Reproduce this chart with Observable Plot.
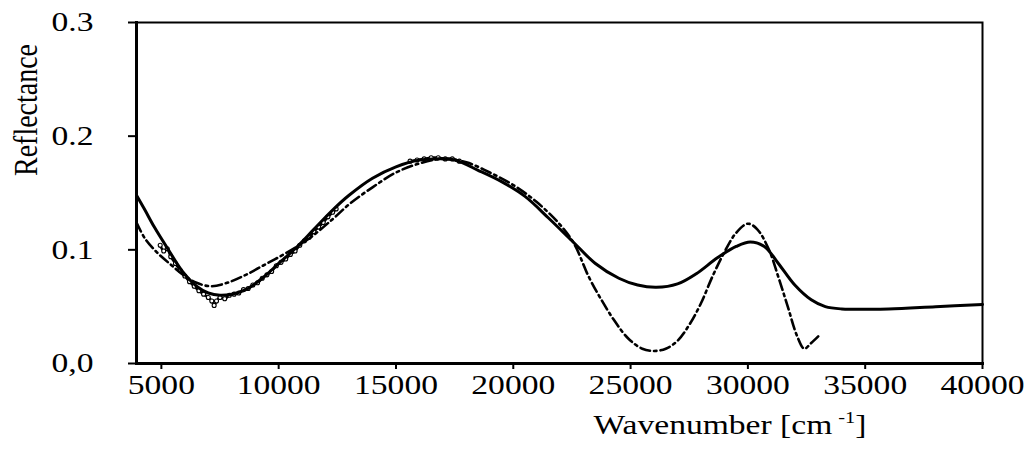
<!DOCTYPE html>
<html>
<head>
<meta charset="utf-8">
<script src="https://cdn.jsdelivr.net/npm/d3@7"></script>
<script src="https://cdn.jsdelivr.net/npm/@observablehq/plot@0.6"></script>
<style>
  body { margin: 0; background: #fff; }
  #chart svg { display: block; }
</style>
</head>
<body>
<div id="chart"></div>
<script>
// Calculated reflectance (solid curve)
const solidWn = [3940, 4300, 4700, 5300, 5900, 6500, 7000, 7500, 8000, 8600, 9300, 10000, 10700, 11500, 12300, 13000, 14000, 15000, 16000, 16700, 17500, 18500, 19500, 20500, 21500, 22500, 23500, 24500, 25300, 26100, 27000, 27800, 28700, 29500, 30100, 30700, 31300, 32000, 32700, 33300, 34000, 36000, 38000, 40000];
const solidR = [0.148, 0.135, 0.120, 0.100, 0.081, 0.068, 0.062, 0.060, 0.061, 0.065, 0.075, 0.088, 0.101, 0.118, 0.135, 0.148, 0.163, 0.173, 0.179, 0.180, 0.179, 0.170, 0.160, 0.147, 0.128, 0.108, 0.088, 0.075, 0.069, 0.067, 0.070, 0.079, 0.093, 0.103, 0.107, 0.103, 0.088, 0.069, 0.056, 0.050, 0.048, 0.048, 0.050, 0.052];

// Second model (dash-dot curve)
const dashWn = [3940, 4300, 4800, 5400, 6000, 6500, 7100, 7800, 8600, 9500, 10300, 11300, 12300, 13000, 14000, 15000, 16000, 17000, 18000, 19000, 20000, 21000, 22000, 22600, 23200, 23700, 24300, 24900, 25500, 26000, 26500, 27000, 27500, 28000, 28500, 29000, 29500, 30000, 30400, 30900, 31300, 31700, 32100, 32400, 32700, 33050];
const dashR = [0.124, 0.110, 0.098, 0.087, 0.077, 0.071, 0.068, 0.071, 0.078, 0.088, 0.097, 0.110, 0.127, 0.140, 0.155, 0.168, 0.176, 0.180, 0.177, 0.168, 0.157, 0.142, 0.122, 0.105, 0.077, 0.058, 0.038, 0.022, 0.013, 0.011, 0.013, 0.020, 0.034, 0.053, 0.077, 0.098, 0.115, 0.123, 0.118, 0.100, 0.076, 0.050, 0.024, 0.013, 0.018, 0.025];

// Measured spectrum (two recorded ranges, null separates them)
const measWn = [4950, 5100, 5250, 5400, 5600, 5800, 6000, 6200, 6400, 6600, 6800, 7000, 7150, 7250, 7350, 7500, 7700, 7900, 8100, 8300, 8500, 8700, 8900, 9100, 9300, 9500, 9700, 9900, 10100, 10300, 10500, 10700, 10900, 11100, 11300, 11500, 11700, 11900, 12100, 12300, 12450,
  12600,
  15600, 15900, 16200, 16500, 16800, 17100, 17400, 17700];
const measR = [0.104, 0.099, 0.101, 0.094, 0.088, 0.082, 0.077, 0.072, 0.068, 0.064, 0.061, 0.058, 0.055, 0.051, 0.055, 0.058, 0.057, 0.060, 0.061, 0.062, 0.065, 0.066, 0.069, 0.071, 0.075, 0.078, 0.081, 0.086, 0.089, 0.092, 0.096, 0.099, 0.104, 0.108, 0.111, 0.116, 0.120, 0.124, 0.129, 0.133, 0.136,
  null,
  0.178, 0.179, 0.180, 0.181, 0.181, 0.180, 0.180, 0.178];

// Axis ticks and their printed labels
const xTicks = [5000, 10000, 15000, 20000, 25000, 30000, 35000, 40000];
const xTickLabels = ["5000", "10000", "15000", "20000", "25000", "30000", "35000", "40000"];
const yTicks = [0, 0.1, 0.2, 0.3];
const yTickLabels = ["0,0", "0.1", "0.2", "0.3"];

const xTitle = "Wavenumber [cm";
const xTitleSup = "-1";
const yTitle = "Reflectance";

const solid = solidWn.map((x, i) => ({x, y: solidR[i]}));
const dash = dashWn.map((x, i) => ({x, y: dashR[i]}));
const meas = measWn.map((x, i) => ({x, y: measR[i]}));
const measPts = meas.filter(d => d.y != null);

const FONT = "'Liberation Serif', 'Times New Roman', serif";
const STRETCH = 1.2;

const chart = Plot.plot({
  width: 1028,
  height: 450,
  marginLeft: 136,
  marginRight: 46,
  marginTop: 22,
  marginBottom: 87,
  style: {fontFamily: FONT, fontSize: "28px", color: "black", background: "white"},
  x: {domain: [3940, 40000]},
  y: {domain: [0, 0.3]},
  marks: [
    Plot.frame({stroke: "black", strokeWidth: 2}),
    Plot.frame({anchor: "left", stroke: "black", strokeWidth: 3}),
    Plot.frame({anchor: "bottom", stroke: "black", strokeWidth: 3}),
    Plot.axisX({
      ticks: xTicks,
      tickFormat: d => xTickLabels[xTicks.indexOf(d)],
      tickSize: 6,
      tickPadding: 5,
      strokeWidth: 2,
      label: null
    }),
    Plot.axisY({
      ticks: yTicks,
      tickFormat: d => yTickLabels[yTicks.indexOf(d)],
      tickSize: 8,
      tickPadding: 35,
      strokeWidth: 2,
      label: null
    }),
    Plot.line(meas, {x: "x", y: "y", stroke: "black", strokeWidth: 2.6, curve: "catmull-rom"}),
    Plot.dot(measPts, {x: "x", y: "y", r: 2, stroke: "black", fill: "white", strokeWidth: 1.1}),
    Plot.line(solid, {x: "x", y: "y", stroke: "black", strokeWidth: 3, curve: "catmull-rom"}),
    Plot.line(dash, {x: "x", y: "y", stroke: "black", strokeWidth: 2.6, strokeDasharray: "10,4,2.5,4", curve: "catmull-rom"})
  ]
});

document.getElementById("chart").appendChild(chart);

const svg = d3.select(chart);

// Widen the tick lettering around each label's anchor point
svg.selectAll('g[aria-label="x-axis tick label"] text, g[aria-label="y-axis tick label"] text')
  .attr("transform", function () {
    return (this.getAttribute("transform") || "") + ` scale(${STRETCH},1)`;
  });

// Axis titles
svg.append("text")
  .attr("transform", `translate(37,110) rotate(-90) scale(1,${STRETCH})`)
  .attr("text-anchor", "middle")
  .attr("font-family", FONT)
  .attr("font-size", 28)
  .attr("fill", "black")
  .text(yTitle);

const xt = svg.append("text")
  .attr("transform", `translate(730,434) scale(${STRETCH},1)`)
  .attr("text-anchor", "middle")
  .attr("font-family", FONT)
  .attr("font-size", 28)
  .attr("fill", "black");
xt.append("tspan").text(xTitle);
xt.append("tspan").attr("dx", 5).attr("dy", -11).attr("font-size", 17).text(xTitleSup);
xt.append("tspan").attr("dy", 11).text("]");
</script>
</body>
</html>
